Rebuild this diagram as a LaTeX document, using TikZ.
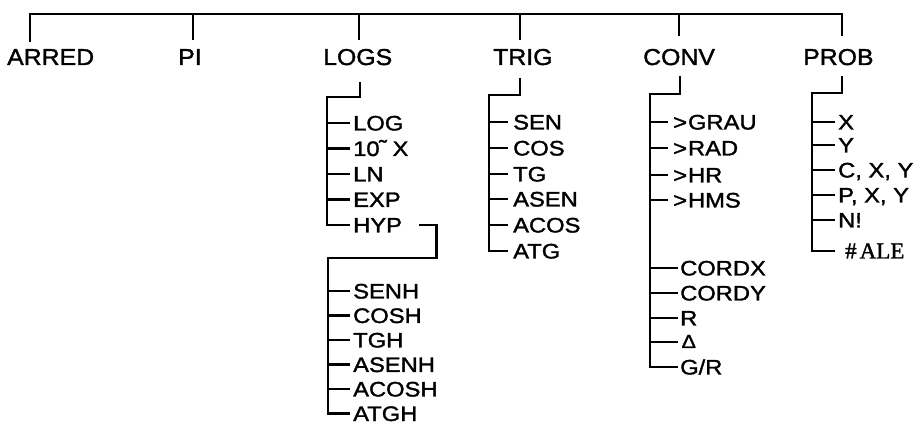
\documentclass[tikz,border=0pt]{standalone}
\usepackage{fontspec}
\setmainfont{Liberation Sans}
\newfontfamily\topfont{Liberation Sans}[FakeStretch=1.08,FakeBold=1.5]
\newfontfamily\subfont{Liberation Sans}[FakeStretch=1.13,FakeBold=1.5]
\newfontfamily\altserif{Liberation Serif}[FakeBold=1.5]
\begin{document}
\begin{tikzpicture}[x=1pt,y=-1pt,
  tree/.style={line width=2.7pt, line cap=butt, line join=miter},
  toplabel/.style={anchor=west, inner sep=0pt, text height=16pt, text depth=0pt, font=\topfont\fontsize{23}{26}\selectfont},
  item/.style={anchor=west, inner sep=0pt, text height=15pt, text depth=0pt, font=\subfont\fontsize{21}{24}\selectfont}]
\useasboundingbox (0,0) rectangle (919,430);
% top labels
\node[toplabel] (arred) at (7,57) {ARRED};
\node[toplabel] (pi) at (178,57) {PI};
\node[toplabel] (logs) at (323,57) {LOGS};
\node[toplabel] (trig) at (493,57) {TRIG};
\node[toplabel] (conv) at (643,57) {CONV};
\node[toplabel] (prob) at (803,57) {PROB};
% top bar
\coordinate (t1) at (30,14);
\coordinate (t2) at (193,14);
\coordinate (t3) at (359,14);
\coordinate (t4) at (520,14);
\coordinate (t5) at (679,14);
\coordinate (t6) at (842,14);
\draw[tree] ([xshift=-1.35pt]t1) -- ([xshift=1.35pt]t6);
\draw[tree] (t1) -- ++(0,28);
\draw[tree] (t2) -- ++(0,26);
\draw[tree] (t3) -- ++(0,26);
\draw[tree] (t4) -- ++(0,26);
\draw[tree] (t5) -- ++(0,22);
\draw[tree] (t6) -- ++(0,22);
% LOGS
\node[item] (log) at (353,123) {LOG};
\node[item] (tenx) at (353,148.5) {10\kern-0.5pt\raisebox{1pt}{\char"02DC}\kern-1pt{} X};
\node[item] (ln) at (353,174) {LN};
\node[item] (exp) at (353,199.5) {EXP};
\node[item] (hyp) at (353,225) {HYP};
\coordinate (lb) at (327,97);
\draw[tree] (360,82) -- (360,97) -- (lb) -- (lb |- hyp.west) -- ([xshift=-3pt]hyp.west);
\foreach \n in {log,tenx,ln,exp}
  \draw[tree] (lb |- \n.west) -- ([xshift=-3pt]\n.west);
\node[item] (senh) at (353,291) {SENH};
\node[item] (cosh) at (353,315.5) {COSH};
\node[item] (tgh) at (353,340) {TGH};
\node[item] (asenh) at (353,364.5) {ASENH};
\node[item] (acosh) at (353,389) {ACOSH};
\node[item] (atgh) at (353,413.5) {ATGH};
\coordinate (hb) at (328,258);
\draw[tree] ([xshift=17pt]hyp.east) -- ++(17,0) coordinate (hc) -- (hc |- hb) -- (hb) -- (hb |- atgh.west) -- ([xshift=-3pt]atgh.west);
\foreach \n in {senh,cosh,tgh,asenh,acosh}
  \draw[tree] (hb |- \n.west) -- ([xshift=-3pt]\n.west);
% TRIG
\node[item] (sen) at (513,122) {SEN};
\node[item] (cos) at (513,148) {COS};
\node[item] (tg) at (513,174) {TG};
\node[item] (asen) at (513,199) {ASEN};
\node[item] (acos) at (513,225) {ACOS};
\node[item] (atg) at (513,251) {ATG};
\coordinate (tb) at (489,95);
\draw[tree] (520,78) -- (520,95) -- (tb) -- (tb |- atg.west) -- ([xshift=-5pt]atg.west);
\foreach \n in {sen,cos,tg,asen,acos}
  \draw[tree] (tb |- \n.west) -- ([xshift=-5pt]\n.west);
% CONV
\node[item] (grau) at (673,122) {>\kern1pt GRAU};
\node[item] (rad) at (673,148) {>\kern1pt RAD};
\node[item] (hr) at (673,175) {>\kern1pt HR};
\node[item] (hms) at (673,200) {>\kern1pt HMS};
\node[item] (cordx) at (680,268) {CORDX};
\node[item] (cordy) at (680,293) {CORDY};
\node[item] (rr) at (680,318) {R};
\node[item, text height=12pt] (delta) at (682,342) {\fontsize{19}{20}\selectfont ∆};
\node[item] (gr) at (680,367) {G/R};
\coordinate (cb) at (650,94);
\draw[tree] (680,76) -- (680,94) -- (cb) -- (cb |- gr.west) -- ([xshift=-2pt]gr.west);
\foreach \n in {grau,rad,hr,hms}
  \draw[tree] (cb |- \n.west) -- ([xshift=-5pt]\n.west);
\foreach \n in {cordx,cordy,rr,gr}
  \draw[tree] (cb |- \n.west) -- ([xshift=-2pt]\n.west);
\draw[tree] (cb |- delta.west) -- ([xshift=-4pt]delta.west);
% PROB
\node[item] (px) at (838,122) {X};
\node[item] (py) at (838,145) {Y};
\node[item] (cxy) at (838,170) {C, X, Y};
\node[item] (pxy) at (838,195) {P, X, Y};
\node[item] (nf) at (838,220) {N!};
\node[item, font=\altserif\fontsize{23}{26}\selectfont, text height=15pt] (ale) at (845,251) {\#\kern3pt ALE};
\coordinate (pb) at (812,93);
\draw[tree] (842,76) -- (842,93) -- (pb) -- (pb |- ale.west) -- ([xshift=-10pt]ale.west);
\foreach \n in {px,py,cxy,pxy,nf}
  \draw[tree] (pb |- \n.west) -- ([xshift=-3pt]\n.west);
\end{tikzpicture}
\end{document}
